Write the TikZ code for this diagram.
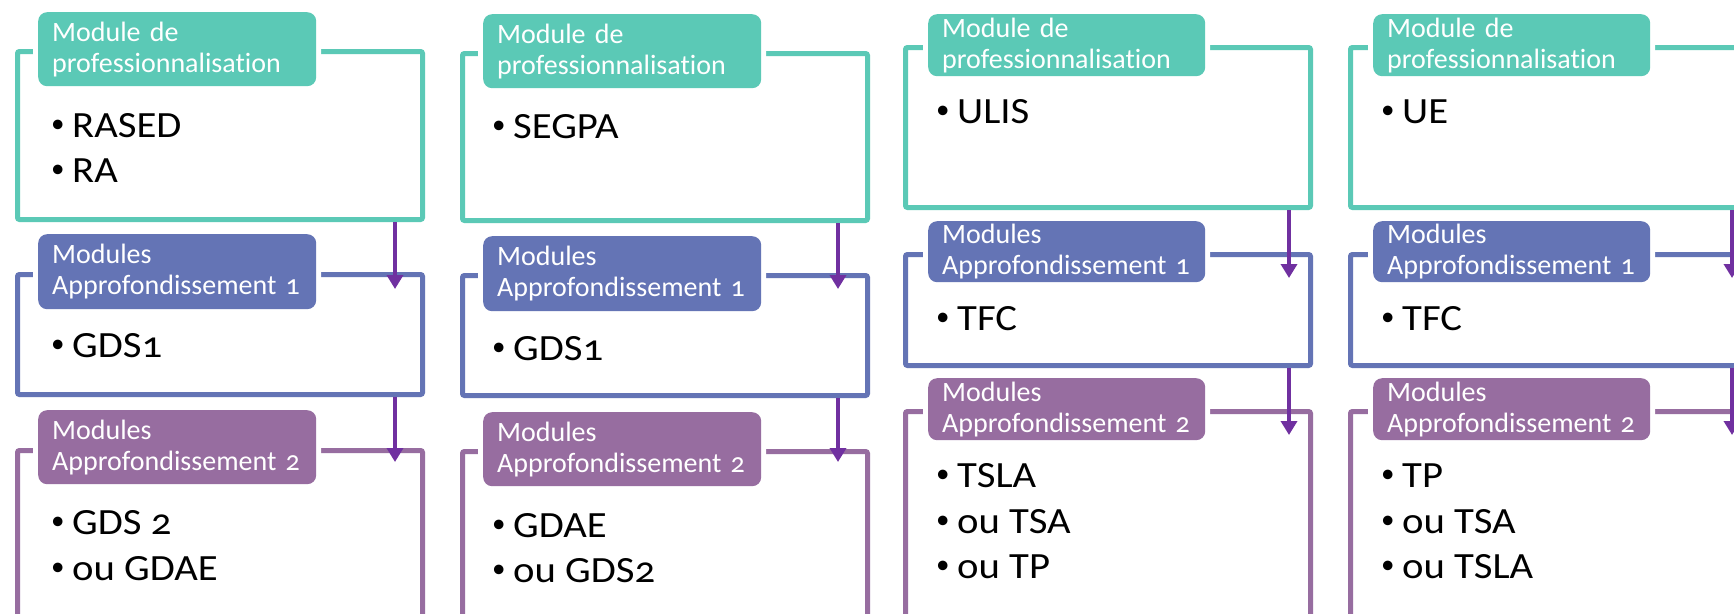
\documentclass[tikz,border=0pt]{standalone}
\usepackage{fontspec}
\setmainfont{Carlito}[Numbers=OldStyle, Ligatures=NoCommon]
\usetikzlibrary{arrows.meta}
\definecolor{cteal}{RGB}{91,201,182}
\definecolor{cblue}{RGB}{100,116,181}
\definecolor{cmauve}{RGB}{151,109,160}
\definecolor{carrow}{RGB}{112,48,160}
\newcommand\labfont{\fontsize{28}{31}\selectfont}
\newcommand\itemfont{\fontsize{37}{45}\selectfont}
\newcommand\bitem[1]{\makebox[22pt][l]{\hspace{1pt}\raisebox{5pt}{\fontsize{27}{27}\selectfont\textbullet}}\scalebox{1.1}[1]{#1}}
\tikzset{
  outer/.style={draw=#1, line width=5pt, rounded corners=2pt, inner sep=0pt,
    anchor=north west, minimum width=405pt},
  lab/.style={fill=#1, preaction={draw=white, line width=10pt}, rounded corners=9pt,
    text=white, font=\labfont, align=left, inner xsep=14pt, inner ysep=0pt,
    anchor=north west},
  item/.style={anchor=base west, inner sep=0pt, font=\itemfont},
  flow/.style={draw=carrow, line width=4pt, -{Triangle[width=16pt,length=14pt]}}
}
\begin{document}
\begin{tikzpicture}[x=1pt,y=-1pt]
\fill[white] (0,0) rectangle (1734,613);
\useasboundingbox (0,0) rectangle (1734,613);
% ---------- column 1
\node[outer=cteal, minimum height=168pt] (b11) at (15,49) {};
\node[outer=cblue, minimum height=120pt] (b12) at (15,272) {};
\node[outer=cmauve, minimum height=167pt] (b13) at (15,448) {};
\coordinate (t11) at (395,289);
\coordinate (t12) at (395,462);
\draw[flow] (b11.south -| t11) -- (t11);
\draw[flow] (b12.south -| t12) -- (t12);
\node[lab=cteal, text width=250pt, minimum height=74pt] (l11) at (38,12) {Module de\\professionnalisation};
\node[lab=cblue, text width=250pt, minimum height=75pt] (l12) at (38,234) {Modules\\Approfondissement 1};
\node[lab=cmauve, text width=250pt, minimum height=74pt] (l13) at (38,410) {Modules\\Approfondissement 2};
\node[item] (i11a) at (50,137) {\bitem{RASED}};
\node[item] (i11b) at (50,182) {\bitem{RA}};
\node[item] (i12a) at (50,357) {\bitem{GDS1}};
\node[item] (i13a) at (50,534) {\bitem{GDS 2}};
\node[item] (i13b) at (50,580) {\bitem{ou GDAE}};
% ---------- column 2
\node[outer=cteal, minimum height=167pt] (b21) at (460,51) {};
\node[outer=cblue, minimum height=120pt] (b22) at (460,273) {};
\node[outer=cmauve, minimum height=167pt] (b23) at (460,449) {};
\coordinate (t21) at (838,289);
\coordinate (t22) at (838,462);
\draw[flow] (b21.south -| t21) -- (t21);
\draw[flow] (b22.south -| t22) -- (t22);
\node[lab=cteal, text width=250pt, minimum height=74pt] (l21) at (483,14) {Module de\\professionnalisation};
\node[lab=cblue, text width=250pt, minimum height=75pt] (l22) at (483,236) {Modules\\Approfondissement 1};
\node[lab=cmauve, text width=250pt, minimum height=74pt] (l23) at (483,412) {Modules\\Approfondissement 2};
\node[item] (i21a) at (491,138) {\bitem{SEGPA}};
\node[item] (i22a) at (491,360) {\bitem{GDS1}};
\node[item] (i23a) at (491,537) {\bitem{GDAE}};
\node[item] (i23b) at (491,582) {\bitem{ou GDS2}};
% ---------- column 3
\node[outer=cteal, minimum height=160pt] (b31) at (903,45) {};
\node[outer=cblue, minimum height=111pt] (b32) at (903,252) {};
\node[outer=cmauve, minimum height=215pt] (b33) at (903,409) {};
\coordinate (t31) at (1289,278);
\coordinate (t32) at (1289,435);
\draw[flow] (b31.south -| t31) -- (t31);
\draw[flow] (b32.south -| t32) -- (t32);
\node[lab=cteal, text width=249pt, minimum height=62pt] (l31) at (928,14) {Module de\\professionnalisation};
\node[lab=cblue, text width=249pt, minimum height=61pt] (l32) at (928,221) {Modules\\Approfondissement 1};
\node[lab=cmauve, text width=249pt, minimum height=62pt] (l33) at (928,378) {Modules\\Approfondissement 2};
\node[item] (i31a) at (935,123) {\bitem{ULIS}};
\node[item] (i32a) at (935,330) {\bitem{TFC}};
\node[item] (i33a) at (935,487) {\bitem{TSLA}};
\node[item] (i33b) at (935,533) {\bitem{ou TSA}};
\node[item] (i33c) at (935,578) {\bitem{ou TP}};
% ---------- column 4
\node[outer=cteal, minimum height=160pt] (b41) at (1348,45) {};
\node[outer=cblue, minimum height=111pt] (b42) at (1348,252) {};
\node[outer=cmauve, minimum height=215pt] (b43) at (1348,409) {};
\coordinate (t41) at (1732,278);
\coordinate (t42) at (1732,435);
\draw[flow] (b41.south -| t41) -- (t41);
\draw[flow] (b42.south -| t42) -- (t42);
\node[lab=cteal, text width=249pt, minimum height=62pt] (l41) at (1373,14) {Module de\\professionnalisation};
\node[lab=cblue, text width=249pt, minimum height=61pt] (l42) at (1373,221) {Modules\\Approfondissement 1};
\node[lab=cmauve, text width=249pt, minimum height=62pt] (l43) at (1373,378) {Modules\\Approfondissement 2};
\node[item] (i41a) at (1380,123) {\bitem{UE}};
\node[item] (i42a) at (1380,330) {\bitem{TFC}};
\node[item] (i43a) at (1380,487) {\bitem{TP}};
\node[item] (i43b) at (1380,533) {\bitem{ou TSA}};
\node[item] (i43c) at (1380,578) {\bitem{ou TSLA}};
\end{tikzpicture}
\end{document}
